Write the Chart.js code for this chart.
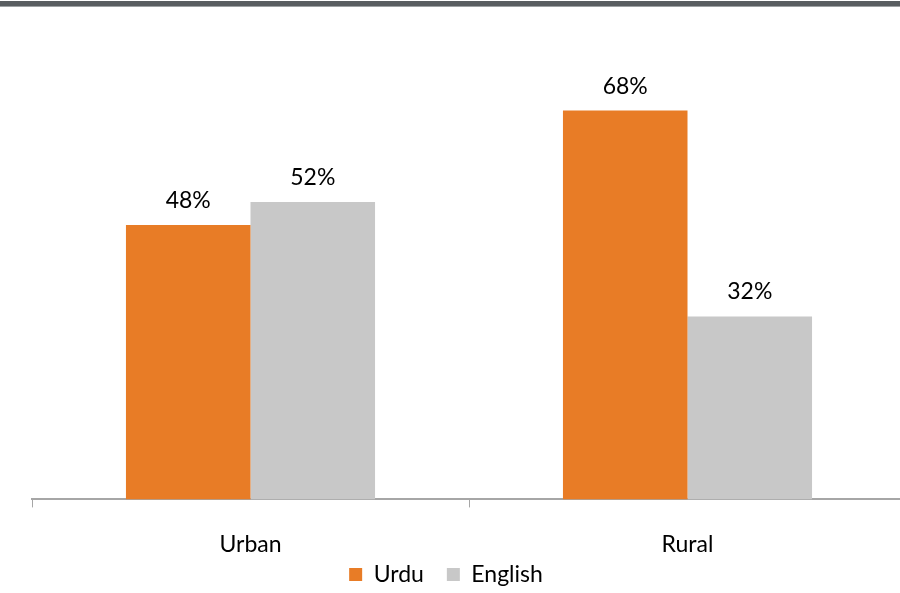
<!DOCTYPE html>
<html>
<head>
<meta charset="utf-8">
<script src="https://cdn.jsdelivr.net/npm/chart.js@4/dist/chart.umd.min.js"></script>
<style>
    html, body { margin: 0; padding: 0; background: #ffffff; overflow: hidden; }
    #wrap { position: relative; width: 900px; height: 593px; overflow: hidden; }
    #band { position: absolute; left: 0; top: 1px; width: 900px; height: 5px; background: #595e61; border-bottom: 1px solid #9ea2a4; }
    #box { position: absolute; left: 0; top: 0; width: 906px; height: 593px; }
</style>
</head>
<body>
<div id="wrap">
    <div id="box"><canvas id="languageChart"></canvas></div>
    <div id="band"></div>
</div>
<script>
// Categories and series
const categories = ['Urban', 'Rural'];
const urduShare = [48, 68];
const englishShare = [52, 32];

// Writes the percentage above every bar
const barLabels = {
    id: 'barLabels',
    afterDatasetsDraw(chart) {
        const ctx = chart.ctx;
        ctx.save();
        ctx.font = '23px Lato';
        ctx.fillStyle = '#000000';
        ctx.textAlign = 'center';
        ctx.textBaseline = 'alphabetic';
        chart.data.datasets.forEach((ds, i) => {
            chart.getDatasetMeta(i).data.forEach((bar, j) => {
                ctx.fillText(ds.data[j] + '%', bar.x, bar.y - 17);
            });
        });
        ctx.restore();
    }
};

// The x axis is squeezed so the legend sits close under the labels;
// give the labels their full room back and move the legend a bit left
const layoutTweaks = {
    id: 'layoutTweaks',
    afterLayout(chart) {
        const x = chart.scales.x;
        x.bottom = chart.height;
        const lg = chart.legend;
        if (lg) {
            lg.left -= 23;
            lg.right -= 23;
        }
    }
};

const ctx = document.getElementById('languageChart').getContext('2d');
new Chart(ctx, {
    type: 'bar',
    data: {
        labels: categories,
        datasets: [
            { label: 'Urdu', data: urduShare, backgroundColor: '#e87c26' },
            { label: 'English', data: englishShare, backgroundColor: '#c8c8c8' }
        ]
    },
    options: {
        responsive: true,
        maintainAspectRatio: false,
        animation: false,
        categoryPercentage: 0.57,
        barPercentage: 1,
        layout: { padding: { left: 32, right: 0, top: 42, bottom: -3 } },
        scales: {
            x: {
                grid: { drawOnChartArea: false, color: '#a6a6a6', tickLength: 8, lineWidth: 1 },
                border: { color: '#a6a6a6', width: 2 },
                ticks: { color: '#000000', font: { family: 'Lato', size: 23 }, padding: 23 },
                afterFit(scale) { scale.height -= 41; }
            },
            y: {
                display: false,
                min: 0,
                max: 80
            }
        },
        plugins: {
            legend: {
                position: 'bottom',
                labels: {
                    boxWidth: 13,
                    boxHeight: 13,
                    padding: 23,
                    color: '#000000',
                    font: { family: 'Lato', size: 23 }
                }
            },
            tooltip: { enabled: false }
        }
    },
    plugins: [barLabels, layoutTweaks]
});
</script>
</body>
</html>
